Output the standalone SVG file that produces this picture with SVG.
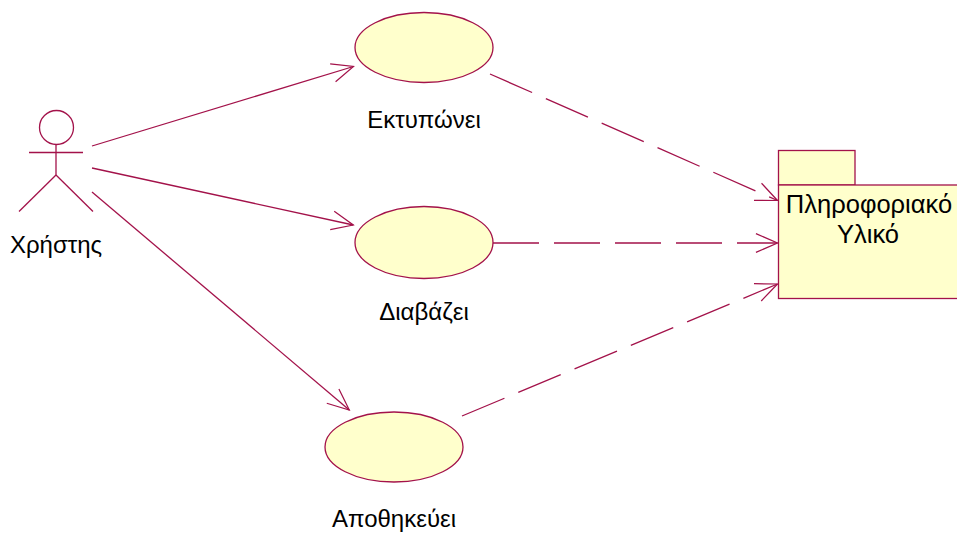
<svg xmlns="http://www.w3.org/2000/svg" width="957" height="533" viewBox="0 0 957 533">
<defs>
<style>
.ln{stroke:#A3124A;stroke-width:1.3;fill:none}
.dash{stroke-dasharray:46 15}
.uc{fill:#FFFFCC;stroke:#A3124A;stroke-width:1.3}
.t{font-family:"Liberation Sans",Arial,sans-serif;font-size:24px;fill:#000;text-anchor:middle}
.pk{font-size:25.5px}
</style>
<marker id="open" markerUnits="userSpaceOnUse" markerWidth="30" markerHeight="30" refX="0" refY="0" orient="auto" overflow="visible" viewBox="-30 -15 32 30">
<path d="M-23,-10 L0,0 L-23,10" fill="none" stroke="#A3124A" stroke-width="1.3"/>
</marker>
</defs>
<rect width="957" height="533" fill="#FFFFFF"/>
<g id="connectors">
<line class="ln" x1="92" y1="146" x2="353.5" y2="66.5" marker-end="url(#open)"/>
<line class="ln" x1="92" y1="168" x2="353.3" y2="225" marker-end="url(#open)"/>
<line class="ln" x1="92" y1="192" x2="349.3" y2="410" marker-end="url(#open)"/>
<line class="ln dash" x1="490" y1="74" x2="777.5" y2="200.5" marker-end="url(#open)"/>
<line class="ln dash" x1="493" y1="243" x2="777.5" y2="243" marker-end="url(#open)"/>
<line class="ln dash" x1="462" y1="416" x2="777.5" y2="284" marker-end="url(#open)"/>
</g>
<g id="actor">
<circle class="ln" cx="56.5" cy="127.5" r="17"/>
<line class="ln" x1="29" y1="152.5" x2="83" y2="152.5"/>
<line class="ln" x1="56" y1="144.5" x2="56" y2="175"/>
<line class="ln" x1="56" y1="175" x2="19" y2="211.5"/>
<line class="ln" x1="56" y1="175" x2="93" y2="211.5"/>
<text class="t" x="56" y="253">Χρήστης</text>
</g>
<g id="uc-print">
<ellipse class="uc" cx="424" cy="47.5" rx="69" ry="35"/>
<text class="t" x="424" y="127.5">Εκτυπώνει</text>
</g>
<g id="uc-read">
<ellipse class="uc" cx="424" cy="242.5" rx="69" ry="36"/>
<text class="t" x="424" y="320">Διαβάζει</text>
</g>
<g id="uc-store">
<ellipse class="uc" cx="394" cy="447" rx="69" ry="35"/>
<text class="t" x="394" y="526.5">Αποθηκεύει</text>
</g>
<g id="package">
<rect class="uc" x="778.5" y="150.5" width="76.5" height="34.5"/>
<rect class="uc" x="778.5" y="185" width="200" height="113.5"/>
<text class="t pk" x="869" y="213">Πληροφοριακό</text>
<text class="t pk" x="868" y="243">Υλικό</text>
</g>
</svg>
